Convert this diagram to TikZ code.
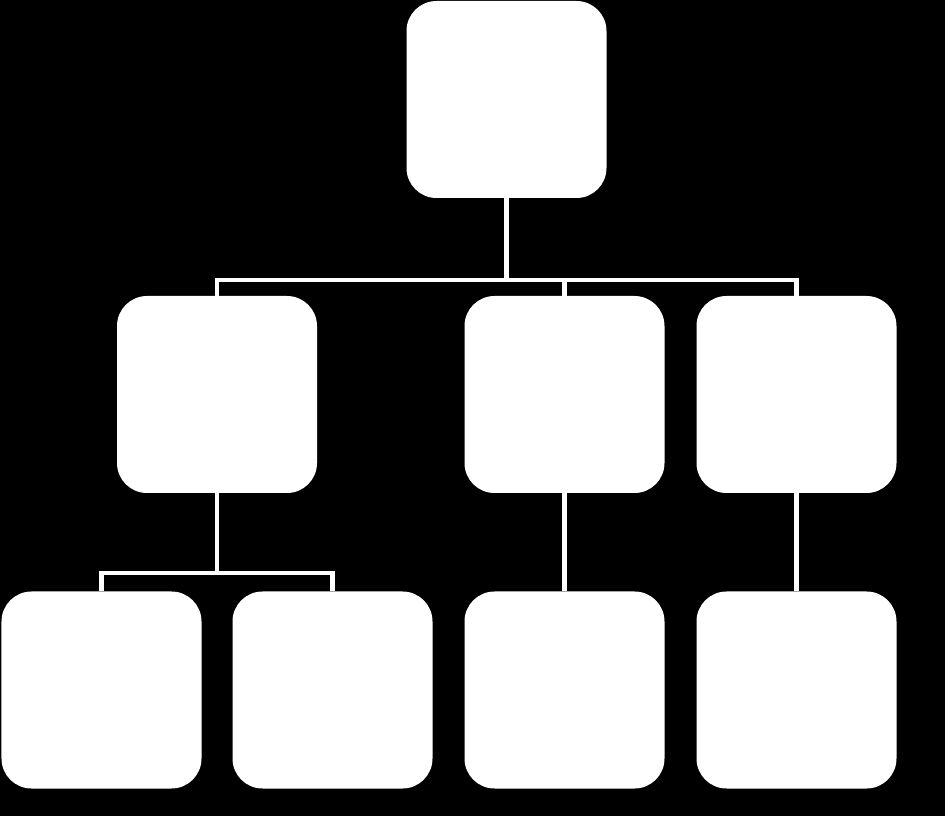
\documentclass[tikz,border=0pt]{standalone}
\usetikzlibrary{positioning}

\tikzset{
    card/.style={draw=none, fill=white, rounded corners=0.6cm, minimum width=4cm, minimum height=3.94cm, inner sep=0pt},
    link/.style={draw=white, line width=2.8pt}
}

\begin{document}
\begin{tikzpicture}
    \fill[black] (0, 0) rectangle (18.9, -16.32);
    \useasboundingbox (0, 0) rectangle (18.9, -16.32);

    \node[card] (root) at (10.13, -1.99) {};

    \node[card] (midA) at (4.34, -7.89) {};
    \node[card] (midB) at (11.29, -7.89) {};
    \node[card] (midC) at (15.93, -7.89) {};

    \node[card] (lowA) at (2.03, -13.8) {};
    \node[card] (lowB) at (6.65, -13.8) {};
    \node[card] (lowC) at (11.29, -13.8) {};
    \node[card] (lowD) at (15.93, -13.8) {};

    \coordinate (busTop) at (10.13, -5.6);
    \coordinate (busLow) at (4.34, -11.46);

    % top level
    \draw[link] (root.south) -- (root |- busTop) -| (midA.north);
    \draw[link] (root |- busTop) -| (midB.north);
    \draw[link] (root |- busTop) -| (midC.north);

    % lower level
    \draw[link] (midA.south) -- (busLow) -| (lowA.north);
    \draw[link] (busLow) -| (lowB.north);
    \draw[link] (midB.south) -- (lowC.north);
    \draw[link] (midC.south) -- (lowD.north);
\end{tikzpicture}
\end{document}
